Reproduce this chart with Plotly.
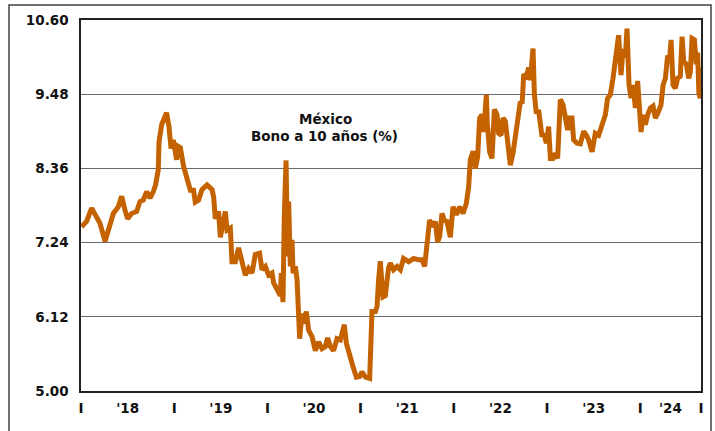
import pandas as pd
import plotly.graph_objects as go

# ---- data: Mexico 10-year bond yield (%) ----
year_frac = [
    2018.006, 2018.060, 2018.114, 2018.167, 2018.204, 2018.258, 2018.293, 2018.347, 2018.400, 2018.436,
    2018.472, 2018.500, 2018.543, 2018.597, 2018.633, 2018.668, 2018.704, 2018.740, 2018.776, 2018.800,
    2018.829, 2018.837, 2018.865, 2018.918, 2018.944, 2018.966, 2018.990, 2019.026, 2019.044, 2019.066,
    2019.101, 2019.137, 2019.173, 2019.208, 2019.226, 2019.262, 2019.298, 2019.352, 2019.406, 2019.423,
    2019.441, 2019.476, 2019.495, 2019.524, 2019.548, 2019.567, 2019.602, 2019.620, 2019.656, 2019.691,
    2019.727, 2019.763, 2019.798, 2019.835, 2019.870, 2019.916, 2019.942, 2019.978, 2020.013, 2020.049,
    2020.067, 2020.103, 2020.138, 2020.149, 2020.167, 2020.181, 2020.200, 2020.217, 2020.228, 2020.246,
    2020.264, 2020.275, 2020.299, 2020.318, 2020.346, 2020.371, 2020.388, 2020.417, 2020.442, 2020.479,
    2020.514, 2020.549, 2020.586, 2020.621, 2020.646, 2020.675, 2020.710, 2020.747, 2020.782, 2020.801,
    2020.825, 2020.847, 2020.882, 2020.918, 2020.954, 2020.989, 2021.015, 2021.051, 2021.097, 2021.122,
    2021.158, 2021.176, 2021.193, 2021.211, 2021.240, 2021.265, 2021.300, 2021.319, 2021.354, 2021.391,
    2021.426, 2021.461, 2021.515, 2021.569, 2021.622, 2021.659, 2021.687, 2021.712, 2021.740, 2021.777,
    2021.802, 2021.826, 2021.848, 2021.873, 2021.898, 2021.927, 2021.963, 2021.991, 2022.027, 2022.062,
    2022.099, 2022.134, 2022.159, 2022.177, 2022.206, 2022.231, 2022.256, 2022.277, 2022.303, 2022.320,
    2022.349, 2022.359, 2022.384, 2022.410, 2022.435, 2022.464, 2022.481, 2022.507, 2022.528, 2022.553,
    2022.571, 2022.588, 2022.606, 2022.635, 2022.660, 2022.685, 2022.714, 2022.733, 2022.750, 2022.779,
    2022.803, 2022.821, 2022.850, 2022.864, 2022.885, 2022.910, 2022.928, 2022.946, 2022.964, 2022.993,
    2023.017, 2023.036, 2023.064, 2023.089, 2023.114, 2023.143, 2023.172, 2023.197, 2023.221, 2023.243,
    2023.268, 2023.285, 2023.322, 2023.357, 2023.393, 2023.422, 2023.446, 2023.483, 2023.518, 2023.554,
    2023.590, 2023.626, 2023.650, 2023.679, 2023.708, 2023.744, 2023.768, 2023.794, 2023.815, 2023.840,
    2023.858, 2023.880, 2023.901, 2023.923, 2023.948, 2023.972, 2023.994, 2024.009, 2024.030, 2024.055,
    2024.080, 2024.109, 2024.137, 2024.162, 2024.191, 2024.223, 2024.245, 2024.270, 2024.294, 2024.316,
    2024.331, 2024.352, 2024.377, 2024.401, 2024.430, 2024.449, 2024.466, 2024.495, 2024.520, 2024.538,
    2024.556, 2024.581, 2024.602, 2024.616, 2024.629, 2024.643, 2024.652,
]
yield_pct = [
    7.48, 7.56, 7.76, 7.61, 7.53, 7.26, 7.43, 7.68, 7.78, 7.94,
    7.73, 7.60, 7.68, 7.71, 7.86, 7.88, 8.01, 7.91, 8.01, 8.11,
    8.34, 8.76, 9.02, 9.20, 8.99, 8.66, 8.79, 8.49, 8.69, 8.67,
    8.39, 8.23, 8.03, 8.03, 7.85, 7.88, 8.04, 8.11, 8.04, 7.93,
    7.60, 7.71, 7.32, 7.53, 7.71, 7.43, 7.46, 6.95, 6.95, 7.16,
    6.93, 6.75, 6.85, 6.78, 7.06, 7.08, 6.83, 6.88, 6.75, 6.78,
    6.63, 6.55, 6.44, 6.78, 6.34, 7.63, 8.48, 7.03, 7.86, 6.88,
    7.28, 6.78, 6.88, 6.68, 5.79, 6.17, 6.02, 6.20, 5.92, 5.82,
    5.61, 5.74, 5.64, 5.67, 5.80, 5.67, 5.61, 5.79, 5.77, 5.87,
    6.00, 5.72, 5.52, 5.37, 5.21, 5.22, 5.29, 5.21, 5.19, 6.20,
    6.20, 6.27, 6.68, 6.96, 6.42, 6.44, 6.86, 6.93, 6.83, 6.88,
    6.83, 7.00, 6.95, 7.00, 6.98, 6.98, 6.88, 7.23, 7.58, 7.48,
    7.56, 7.25, 7.33, 7.68, 7.58, 7.56, 7.32, 7.78, 7.66, 7.78,
    7.68, 7.83, 8.08, 8.49, 8.62, 8.36, 8.54, 9.12, 9.17, 8.91,
    9.47, 9.05, 8.61, 8.51, 9.25, 9.17, 8.89, 8.86, 9.12, 9.07,
    8.84, 8.61, 8.41, 8.59, 8.86, 9.17, 9.37, 9.34, 9.78, 9.75,
    9.88, 9.69, 10.17, 9.49, 9.19, 9.24, 8.99, 8.84, 8.89, 8.74,
    8.99, 8.51, 8.51, 8.59, 8.51, 9.40, 9.32, 9.09, 8.94, 9.12,
    9.12, 8.79, 8.74, 8.73, 8.92, 8.86, 8.79, 8.61, 8.89, 8.86,
    9.02, 9.17, 9.42, 9.47, 9.72, 10.11, 10.37, 9.77, 10.16, 10.03,
    10.47, 9.62, 9.42, 9.62, 9.27, 9.68, 9.12, 8.91, 9.17, 9.02,
    9.17, 9.27, 9.30, 9.12, 9.20, 9.32, 9.62, 9.72, 10.06, 10.03,
    10.30, 9.62, 9.57, 9.72, 9.75, 10.35, 9.98, 9.93, 9.72, 9.82,
    10.32, 10.30, 9.93, 10.11, 9.50, 9.42, 9.88,
]

# axis ticks
y_ticks = [5.00, 6.12, 7.24, 8.36, 9.48, 10.60]
x_tick_years = [2018.0, 2018.5, 2019.0, 2019.5, 2020.0, 2020.5, 2021.0, 2021.5,
                2022.0, 2022.5, 2023.0, 2023.5, 2024.0, 2024.323, 2024.652]
x_tick_text = ["I", "'18", "I", "'19", "I", "'20", "I", "'21",
               "I", "'22", "I", "'23", "I", "'24", "I"]
x_range_years = [2018.0, 2024.652]

title_line1 = "México"
title_line2 = "Bono a 10 años (%)"

BASE = pd.Timestamp("2018-01-01")


def to_date(y):
    return BASE + pd.Timedelta(days=(y - 2018.0) * 365.25)


dates = [to_date(y) for y in year_frac]

FONT = "DejaVu Sans"
fig = go.Figure()
fig.add_trace(go.Scatter(
    x=dates, y=yield_pct, mode="lines",
    line=dict(color="#C46200", width=5),
    showlegend=False, hoverinfo="skip",
))

fig.update_layout(
    width=715, height=431,
    margin=dict(l=81, r=14, t=20, b=40),
    paper_bgcolor="white", plot_bgcolor="white",
    font=dict(family=FONT, size=13.5, color="#111"),
)
fig.update_xaxes(
    type="date",
    range=[to_date(x_range_years[0]), to_date(x_range_years[1])],
    tickmode="array",
    tickvals=[to_date(v) for v in x_tick_years],
    ticktext=x_tick_text,
    showgrid=False, zeroline=False,
    showline=True, linecolor="#222", linewidth=1.5, mirror=True,
    ticks="", ticklabelstandoff=4,
    tickfont=dict(family=FONT, size=13.5, color="#111", weight="bold"),
)
fig.update_yaxes(
    range=[5.0, 10.6],
    tickmode="array", tickvals=y_ticks,
    ticktext=[f"{v:.2f}" for v in y_ticks],
    showgrid=True, gridcolor="#6a6a6a", gridwidth=1.2,
    zeroline=False,
    showline=True, linecolor="#222", linewidth=1.5, mirror=True,
    ticks="", ticklabelstandoff=8,
    tickfont=dict(family=FONT, size=13.5, color="#111", weight="bold"),
)

fig.add_annotation(
    x=0.395, y=(391 - 119.5) / 371, xref="paper", yref="paper",
    text=title_line1, showarrow=False, xanchor="center", yanchor="middle",
    font=dict(family=FONT, size=13.5, color="#111", weight="bold"),
)
fig.add_annotation(
    x=0.392, y=(391 - 135.5) / 371, xref="paper", yref="paper",
    text=title_line2, showarrow=False, xanchor="center", yanchor="middle",
    font=dict(family=FONT, size=13.5, color="#111", weight="bold"),
)

# outer frame around the whole chart
fig.add_shape(
    type="rect", xref="paper", yref="paper",
    x0=(9 - 81) / 620, x1=(711 - 81) / 620,
    y0=(391 - 436) / 371, y1=(391 - 5) / 371,
    line=dict(color="#404040", width=1.5), fillcolor="rgba(0,0,0,0)",
    layer="below",
)

fig.write_html("out.html")
